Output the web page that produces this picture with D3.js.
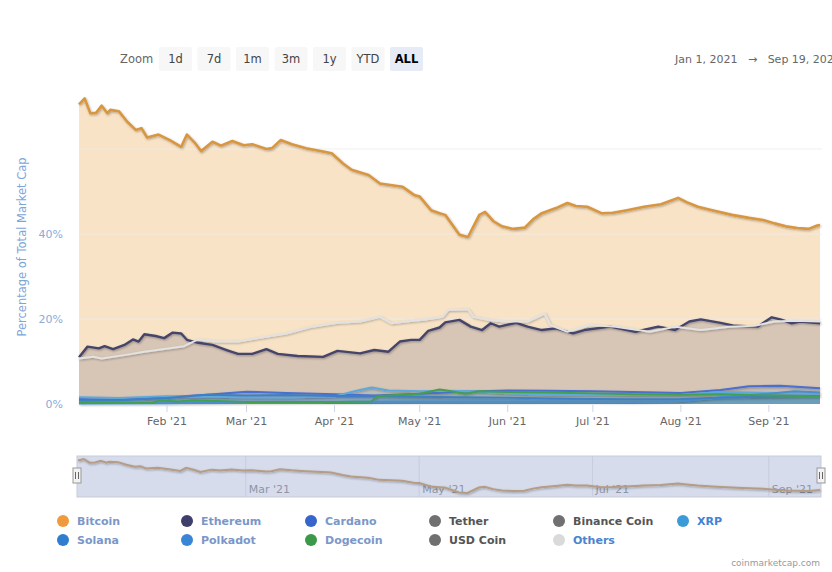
<!DOCTYPE html>
<html>
<head>
<meta charset="utf-8">
<script src="https://cdn.jsdelivr.net/npm/d3@7"></script>
<style>
  body { margin: 0; background: #fff; }
  svg { font-family: "DejaVu Sans", sans-serif; }
</style>
</head>
<body>
<svg id="chart" width="832" height="572"></svg>
<script>
// dominance, % of total market cap, 2021 (MM-DD)
const btcDates = ['01-01','01-03','01-05','01-07','01-09','01-11','01-12','01-15','01-18','01-21','01-23','01-25','01-29',
  '02-02','02-06','02-08','02-11','02-13','02-17','02-20','02-24','02-28','03-03','03-08','03-10','03-13','03-17','03-22',
  '03-28','03-31','04-04','04-07','04-13','04-17','04-25','04-29','05-01','05-05','05-08','05-10','05-15','05-18','05-22',
  '05-24','05-27','05-30','06-03','06-07','06-10','06-13','06-18','06-22','06-25','06-29','07-04','07-08','07-13','07-19',
  '07-25','07-31','08-03','08-07','08-12','08-19','08-25','08-30','09-03','09-07','09-11','09-15','09-18','09-19'];
const btcValues = [70.5,71.9,68.4,68.5,70.2,68.4,69.2,68.9,66.4,64.5,64.9,62.7,63.4,
  62.1,60.5,63.4,61.3,59.5,61.7,60.8,61.9,60.9,61.1,60.0,60.2,62.1,61.1,60.2,
  59.4,59.0,56.6,55.1,53.9,51.9,51.1,49.2,48.8,45.6,44.9,44.5,39.8,39.3,44.5,
  45.2,43.0,41.8,41.2,41.5,43.5,44.9,46.1,47.3,46.6,46.4,44.9,45.0,45.6,46.4,
  47.0,48.5,47.5,46.4,45.6,44.5,43.8,43.3,42.5,41.8,41.4,41.2,42.0,42.1];

const ethDates = ['01-01','01-04','01-08','01-10','01-13','01-17','01-20','01-22','01-24','01-28','01-31','02-03','02-06',
  '02-08','02-12','02-17','02-22','02-26','03-03','03-08','03-12','03-19','03-28','04-02','04-10','04-15','04-20','04-24',
  '04-28','05-01','05-04','05-08','05-10','05-15','05-19','05-23','05-26','05-29','06-04','06-08','06-13','06-18','06-24',
  '06-28','07-07','07-16','07-24','07-30','08-04','08-08','08-15','08-20','08-28','09-02','09-05','09-09','09-12','09-19'];
const ethValues = [11.0,13.5,13.1,13.6,12.9,13.9,15.2,14.7,16.4,16.0,15.5,16.8,16.6,
  15.1,14.4,13.9,12.7,11.8,11.8,12.9,11.8,11.3,11.1,12.5,11.9,12.7,12.3,14.7,
  15.1,15.1,17.2,18.0,19.2,19.8,18.2,17.4,19.0,18.2,19.1,18.2,17.4,17.8,16.6,
  17.4,18.2,17.0,18.2,17.4,19.4,19.9,19.1,18.4,18.2,20.4,19.9,19.0,19.4,19.0];

const othersDates = ['01-01','01-06','01-09','01-17','01-24','02-02','02-07','02-12','02-18','02-26','03-05','03-15','03-24',
  '04-02','04-10','04-17','04-21','04-26','05-03','05-09','05-11','05-18','05-20','05-25','05-31','06-08','06-14','06-16',
  '06-22','06-30','07-09','07-21','07-30','08-08','08-18','08-27','09-03','09-10','09-19'];
const othersValues = [10.7,11.1,10.7,11.5,12.3,13.1,13.6,15.2,14.7,14.7,15.5,16.6,18.2,
  19.1,19.4,20.5,19.0,19.4,19.9,20.5,22.1,22.3,20.5,19.8,19.4,19.4,21.3,18.6,
  17.0,18.6,18.2,17.0,18.2,17.4,18.2,18.4,19.4,19.6,19.4];

const adaDates = ['01-01','01-15','02-01','02-15','03-01','03-15','04-01','04-15','05-01','05-15','06-01','06-15','07-01',
  '07-15','08-01','08-15','08-25','09-05','09-19'];
const adaValues = [1.2,1.0,1.6,2.2,2.9,2.6,2.3,2.0,2.4,2.9,3.2,3.1,3.0,2.8,2.6,3.3,4.2,4.3,3.7];

const xrpDates = ['01-01','01-15','02-01','02-15','03-01','03-15','04-01','04-08','04-14','04-20','05-01','05-10','05-20',
  '06-01','06-15','07-01','07-15','08-01','08-15','09-01','09-19'];
const xrpValues = [1.6,1.4,1.8,1.7,1.6,1.5,1.8,3.0,3.9,3.2,3.0,3.1,3.0,2.5,2.2,2.3,2.1,2.2,2.8,2.6,2.4];

const solDates = ['01-01','02-01','03-01','04-01','05-01','06-01','07-01','07-15','08-01','08-15','09-01','09-10','09-19'];
const solValues = [0.1,0.2,0.4,0.5,0.6,0.6,0.6,0.5,0.7,1.6,2.4,3.0,2.7];

const dotDates = ['01-01','01-15','02-01','02-15','03-01','03-15','04-01','04-15','05-01','05-15','06-01','06-15','07-01',
  '07-15','08-01','08-15','09-01','09-19'];
const dotValues = [0.8,0.9,1.4,2.2,2.0,2.1,1.9,1.9,1.7,1.6,1.5,1.3,1.2,1.1,1.2,1.5,1.7,1.9];

const dogeDates = ['01-01','01-27','01-29','02-05','02-10','03-01','04-01','04-14','04-16','04-20','05-01','05-08','05-12',
  '05-17','05-22','06-01','06-15','07-01','07-15','08-01','08-15','09-01','09-19'];
const dogeValues = [0.3,0.3,0.8,0.6,0.9,0.5,0.5,0.6,1.8,2.0,2.4,3.4,3.0,2.4,3.0,2.8,2.7,2.5,2.3,2.2,2.3,2.0,1.8];

const yTicks = [0, 20, 40, 60];
const yTickLabels = ['0%', '20%', '40%', ''];
const zoomButtons = ['1d', '7d', '1m', '3m', '1y', 'YTD', 'ALL'];
const legendNames = ['Bitcoin', 'Ethereum', 'Cardano', 'Tether', 'Binance Coin', 'XRP',
  'Solana', 'Polkadot', 'Dogecoin', 'USD Coin', 'Others'];
const legendColors = ['#f09a3e', '#3e3f6a', '#3566cc', '#707070', '#707070', '#3b9bd9',
  '#2f7dcf', '#3a86d6', '#3a9a4a', '#707070', '#dadada'];
const legendTextColors = ['#7b97c9', '#7b97c9', '#7b97c9', '#555', '#555', '#3f82d6',
  '#7b97c9', '#7b97c9', '#7b97c9', '#555', '#4a84cf'];

const parse = d3.timeParse('%Y-%m-%d');
const toPoints = (dates, values) => dates.map((d, i) => ({ date: parse('2021-' + d), v: values[i] }));

const series = [
  { pts: toPoints(btcDates, btcValues), line: '#d8963f', fill: '#f9e3c6', op: 1, w: 2.6 },
  { pts: toPoints(ethDates, ethValues), line: '#45456c', fill: '#3e3f6a', op: 0.18, w: 2.4 },
  { pts: toPoints(adaDates, adaValues), line: '#4a6fcc', fill: '#3566cc', op: 0.12, w: 2 },
  { pts: toPoints(xrpDates, xrpValues), line: '#5ea9d8', fill: '#3b9bd9', op: 0.18, w: 2 },
  { pts: toPoints(solDates, solValues), line: '#4a8fcf', fill: '#2f7dcf', op: 0.25, w: 2 },
  { pts: toPoints(dotDates, dotValues), line: '#3f7fc4', fill: '#3a86d6', op: 0.35, w: 2 },
  { pts: toPoints(dogeDates, dogeValues), line: '#43a050', fill: '#3a9a4a', op: 0.12, w: 2 },
  { pts: toPoints(othersDates, othersValues), line: '#e2e2e2', fill: '#dadada', op: 0.05, w: 2 }
];

const svg = d3.select('#chart');
const x = d3.scaleTime().domain([parse('2021-01-01'), parse('2021-09-19')]).range([79, 820]);
const y = d3.scaleLinear().domain([0, 60]).range([404, 149]);

const defs = svg.append('defs');
defs.append('filter').attr('id', 'shadow').attr('x', '-5%').attr('y', '-20%').attr('width', '110%').attr('height', '140%')
  .append('feDropShadow').attr('dx', 0.8).attr('dy', 1).attr('stdDeviation', 0.8)
  .attr('flood-color', '#000').attr('flood-opacity', 0.3);

// areas then lines
const area = d3.area().x(d => x(d.date)).y0(y(0)).y1(d => y(d.v));
const line = d3.line().x(d => x(d.date)).y(d => y(d.v));

svg.append('g').selectAll('path').data(series).join('path')
  .attr('d', s => area(s.pts))
  .attr('fill', s => s.fill)
  .attr('fill-opacity', s => s.op);

// grid lines over the fills
svg.append('g').selectAll('line').data(yTicks.filter(d => d > 0)).join('line')
  .attr('x1', 79).attr('x2', 822)
  .attr('y1', d => y(d)).attr('y2', d => y(d))
  .attr('stroke', '#ececec')
  .attr('stroke-opacity', 0.8);

svg.append('g').attr('filter', 'url(#shadow)')
  .selectAll('path').data(series).join('path')
  .attr('d', s => line(s.pts))
  .attr('fill', 'none')
  .attr('stroke', s => s.line)
  .attr('stroke-width', s => s.w)
  .attr('stroke-linejoin', 'round');

// y axis labels + title
svg.append('g').selectAll('text').data(yTicks).join('text')
  .attr('x', 63).attr('y', d => y(d) + 4)
  .attr('text-anchor', 'end')
  .attr('font-size', 11)
  .attr('fill', '#8fa9d6')
  .text((d, i) => yTickLabels[i]);

svg.append('text')
  .attr('transform', 'translate(26,247) rotate(-90)')
  .attr('text-anchor', 'middle')
  .attr('font-size', 11.5)
  .attr('fill', '#7ea5d8')
  .text('Percentage of Total Market Cap');

// x axis
const months = d3.timeMonth.range(parse('2021-02-01'), parse('2021-09-19'));
const fmt = d3.timeFormat("%b '%y");
const xa = svg.append('g');
xa.selectAll('line').data(months).join('line')
  .attr('x1', d => x(d)).attr('x2', d => x(d))
  .attr('y1', 405).attr('y2', 412)
  .attr('stroke', '#ccd6eb');
xa.selectAll('text').data(months).join('text')
  .attr('x', d => x(d)).attr('y', 425)
  .attr('text-anchor', 'middle')
  .attr('font-size', 11)
  .attr('fill', '#666')
  .text(fmt);

// navigator
const nav = svg.append('g');
nav.append('rect').attr('x', 77).attr('y', 456).attr('width', 744).attr('height', 41)
  .attr('fill', '#d6dcec').attr('stroke', '#c5cbd9');
const navX = d3.scaleTime().domain(x.domain()).range([78, 820]);
const navY = d3.scaleLinear().domain(d3.extent(btcValues)).range([493, 459]);
const navMonths = d3.timeMonth.every(2).range(parse('2021-02-15'), parse('2021-09-19'));
nav.selectAll('line.g').data(navMonths).join('line').attr('class', 'g')
  .attr('x1', d => navX(d)).attr('x2', d => navX(d))
  .attr('y1', 456).attr('y2', 497)
  .attr('stroke', '#c6cddf');
nav.selectAll('text').data(navMonths).join('text')
  .attr('x', d => navX(d) + 3).attr('y', 493)
  .attr('font-size', 11)
  .attr('fill', '#8e96a8')
  .text(fmt);
nav.append('path')
  .datum(series[0].pts)
  .attr('d', d3.line().x(d => navX(d.date)).y(d => navY(d.v)))
  .attr('fill', 'none')
  .attr('stroke', '#b59c84')
  .attr('stroke-width', 2)
  .attr('filter', 'url(#shadow)');
[77, 821].forEach(hx => {
  const h = nav.append('g').attr('transform', `translate(${hx},468)`);
  h.append('rect').attr('x', -4).attr('y', 0).attr('width', 8).attr('height', 15)
    .attr('fill', '#f2f2f2').attr('stroke', '#999');
  [-1.5, 1.5].forEach(o => h.append('line')
    .attr('x1', o).attr('x2', o).attr('y1', 4).attr('y2', 11).attr('stroke', '#666'));
});

// zoom buttons
const tb = svg.append('g');
tb.append('text').attr('x', 120).attr('y', 63).attr('font-size', 11.5).attr('fill', '#666').text('Zoom');
const btn = tb.selectAll('g').data(zoomButtons).join('g')
  .attr('transform', (d, i) => `translate(${159 + i * 38.5},47)`);
btn.append('rect').attr('width', 33).attr('height', 24).attr('rx', 2)
  .attr('fill', d => d === 'ALL' ? '#e6ebf5' : '#f7f7f7');
btn.append('text').attr('x', 16.5).attr('y', 16)
  .attr('text-anchor', 'middle')
  .attr('font-size', 11.5)
  .attr('font-weight', d => d === 'ALL' ? 'bold' : 'normal')
  .attr('fill', d => d === 'ALL' ? '#000' : '#444')
  .text(d => d);

// range readout (runs past the right edge, as in the original)
svg.append('text').attr('x', 675).attr('y', 63).attr('font-size', 11).attr('fill', '#666')
  .attr('xml:space', 'preserve')
  .text('Jan 1, 2021   \u2192   Sep 19, 2021');

// legend
const lg = svg.append('g').selectAll('g').data(legendNames).join('g')
  .attr('transform', (d, i) => `translate(${63 + (i % 6) * 124},${i < 6 ? 521 : 540})`);
lg.append('circle').attr('r', 6).attr('fill', (d, i) => legendColors[i]);
lg.append('text').attr('x', 14).attr('y', 4)
  .attr('font-size', 11).attr('font-weight', 'bold')
  .attr('fill', (d, i) => legendTextColors[i])
  .text(d => d);

svg.append('text').attr('x', 820).attr('y', 566).attr('text-anchor', 'end')
  .attr('font-size', 9).attr('fill', '#999').text('coinmarketcap.com');
</script>
</body>
</html>
